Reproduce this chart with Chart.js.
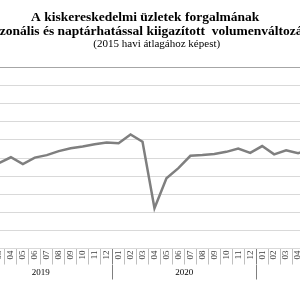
<!DOCTYPE html>
<html>
<head>
<meta charset="utf-8">
<script src="https://cdn.jsdelivr.net/npm/chart.js"></script>
<style>
  body { margin: 0; background: #fff; }
  #frame { position: relative; width: 300px; height: 300px; overflow: hidden; background: #fff; }
  #box { position: absolute; left: -25px; top: 0; width: 347px; height: 300px; }
</style>
</head>
<body>
<div id="frame"><div id="box"><canvas id="myChart"></canvas></div></div>
<script>
var honapok = ['01','02','03','04','05','06','07','08','09','10','11','12',
               '01','02','03','04','05','06','07','08','09','10','11','12',
               '01','02','03','04','05','06'];
var evek = ['2019', '2020', '2021'];
var volumen = [112.8, 112.2, 113.6, 115.2, 113.3, 115.1, 115.8, 116.9, 117.7, 118.2, 118.8, 119.3,
               119.1, 121.5, 119.5, 101.1, 109.4, 112.2, 115.6, 115.8, 116.1, 116.7, 117.6, 116.4,
               118.3, 116.0, 117.1, 116.3, 117.3, 117.5];
var cim = ['A kiskereskedelmi üzletek forgalmának  ', 'szezonális és naptárhatással kiigazított  volumenváltozása'];
var alcim = '      (2015 havi átlagához képest)';

var ctx = document.getElementById("myChart").getContext("2d");

var myChart = new Chart(ctx, {
  type: 'line',
  data: {
    labels: honapok,
    datasets: [{
      data: volumen,
      borderColor: '#7f7f7f',
      borderWidth: 2.5,
      pointRadius: 0,
      tension: 0,
      fill: false
    }]
  },
  options: {
    responsive: true,
    maintainAspectRatio: false,
    animation: false,
    layout: { padding: { bottom: 20.5 } },
    plugins: {
      legend: { display: false },
      tooltip: { enabled: false },
      title: {
        display: true,
        text: cim,
        color: '#000',
        font: { family: 'Liberation Serif', size: 13.5, weight: 'bold', lineHeight: 1 },
        padding: { top: 11.25, bottom: 0 }
      },
      subtitle: {
        display: true,
        text: alcim,
        color: '#000',
        font: { family: 'Liberation Serif', size: 11, weight: 'normal', lineHeight: 1 },
        padding: { top: 0.25, bottom: 18 }
      }
    },
    scales: {
      y: {
        min: 90,
        max: 140,
        ticks: { display: false, stepSize: 5 },
        grid: {
          drawTicks: false,
          color: function(c) { return c.tick && c.tick.value === 140 ? '#a6a6a6' : '#d9d9d9'; }
        },
        border: { display: false }
      },
      x: {
        grid: {
          offset: true,
          drawOnChartArea: false,
          tickLength: 16,
          color: function(c) {
            return honapok[c.index] === '01' ? '#7f7f7f' : '#bfbfbf';
          }
        },
        border: { display: true, color: '#d9d9d9' },
        ticks: {
          autoSkip: false,
          minRotation: 90,
          maxRotation: 90,
          padding: -14,
          color: '#404040',
          font: { family: 'Liberation Serif', size: 9 }
        },
        afterFit: function(s) { s.height = 16; }
      },
      x2: {
        type: 'category',
        position: 'bottom',
        grid: {
          offset: true,
          drawOnChartArea: false,
          tickLength: 15,
          color: function(c) {
            return honapok[c.index] === '01' ? '#7f7f7f' : 'rgba(0,0,0,0)';
          }
        },
        border: { display: false },
        ticks: {
          autoSkip: false,
          maxRotation: 0,
          padding: -12,
          labelOffset: 5.8,
          color: '#000',
          font: { family: 'Liberation Serif', size: 9 },
          callback: function(value, index) {
            return honapok[index] === '06' ? evek[Math.floor(index / 12)] : '';
          }
        },
        afterFit: function(s) { s.height = 15; }
      }
    }
  }
});
</script>
</body>
</html>
